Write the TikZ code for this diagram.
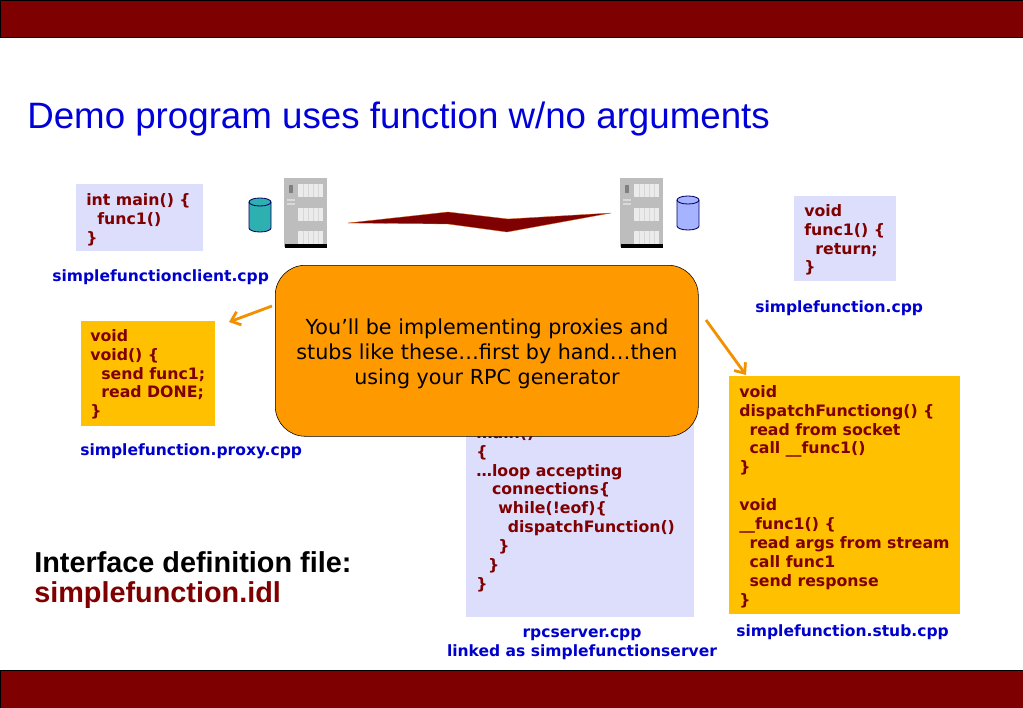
\documentclass[tikz,border=0pt]{standalone}
\usepackage{fontspec}
\setmainfont{DejaVu Sans}
\newfontfamily\arialfont{Liberation Sans}
\usepackage{tikz}
\usetikzlibrary{arrows.meta, positioning}
\definecolor{banddark}{HTML}{7F0000}
\definecolor{paleblue}{HTML}{DCDEFC}
\definecolor{boxgold}{HTML}{FFC000}
\definecolor{noteorange}{HTML}{FF9900}
\definecolor{labelblue}{HTML}{0000CC}
\definecolor{rackgrey}{HTML}{BDBDBD}
\definecolor{drumteal}{HTML}{2FB0B0}
\definecolor{drumblue}{HTML}{A6B4FF}
\newcommand{\pxu}{0.025cm}
\newcommand{\ind}[1]{\hspace*{#1em}}
\newcommand{\rackicon}[2]{%
	\fill[rackgrey] (#1, #2) rectangle ++(43, 69);
	\fill[black] (#1+1, #2+66) rectangle ++(42, 4);
	\foreach \py in {6, 30, 53} {
		\fill[white!92!black] (#1+14, #2+\py) rectangle ++(25, 13);
		\foreach \sx in {5, 10, 15, 20}
			\draw[rackgrey!60, very thin] (#1+14+\sx, #2+\py) -- ++(0, 13);
	}
	\fill[gray] (#1+5, #2+7) rectangle ++(4, 8);
	\fill[white!85!black] (#1+3, #2+21) rectangle ++(8, 2);
	\fill[white!85!black] (#1+3, #2+25) rectangle ++(8, 2);
}
\newcommand{\drumicon}[3]{%
	\draw[draw=black!60!blue, fill=#3, semithick] (#1, #2+4) -- (#1, #2+30) arc[start angle=180, end angle=0, x radius=11, y radius=4] -- (#1+22, #2+4) arc[start angle=0, end angle=-180, x radius=11, y radius=4] -- cycle;
	\draw[draw=black!60!blue, semithick] (#1, #2+4) arc[start angle=180, end angle=0, x radius=11, y radius=4];
}
\begin{document}
\begin{tikzpicture}[x=\pxu, y=-\pxu, >=Stealth,
		band/.style={draw=black, fill=banddark, minimum width=1023*\pxu, inner sep=0pt, anchor=north west},
		codefill/.style={anchor=north west, inner sep=0pt},
		codetext/.style={anchor=north west, inner sep=0pt, align=left, text=banddark,
			font=\fontsize{11.2}{13.45}\selectfont\bfseries},
		filelabel/.style={anchor=west, inner sep=0pt, text=labelblue, font=\fontsize{11.05}{13.5}\selectfont\bfseries},
		callout/.style={draw=noteorange!95!black, line width=2pt, ->, >={Straight Barb[length=6pt, width=10pt]}}]
	\useasboundingbox (0, 0) rectangle (1023, 708);
	\node[band, minimum height=37*\pxu] (topband) at (0, 0) {};
	\node[band, minimum height=38*\pxu] (bottomband) at (0, 670) {};
	\node[anchor=west, inner sep=0pt, text=blue!85!black, font=\arialfont\fontsize{26.1}{30}\selectfont] (title) at (27, 119) {Demo program uses function w/no arguments};

	\node[codefill, fill=paleblue, minimum width=127*\pxu, minimum height=67*\pxu] (clientbox) at (76, 184) {};
	\node[codetext] (clientcode) at (86, 193) {int main() \{\\\ind{.7}func1()\\\}};
	\node[codefill, fill=paleblue, minimum width=102*\pxu, minimum height=85*\pxu] (serverbox) at (794, 196) {};
	\node[codetext] (servercode) at (804, 204) {void\\func1() \{\\\ind{.7}return;\\\}};
	\node[codefill, fill=boxgold, minimum width=134*\pxu, minimum height=105*\pxu] (proxybox) at (81, 321) {};
	\node[codetext] (proxycode) at (90, 329) {void\\void() \{\\\ind{.7}send func1;\\\ind{.7}read DONE;\\\}};
	\node[codefill, fill=paleblue, minimum width=228*\pxu, minimum height=220*\pxu] (rpcbox) at (466, 397) {};
	\node[codetext] (rpccode) at (476, 426) {main()\\\{\\…loop accepting\\\ind{1}connections\{\\\ind{1.4}while(!eof)\{\\\ind{2}dispatchFunction()\\\ind{1.4}\}\\\ind{.75}\}\\\}};
	\node[codefill, fill=boxgold, minimum width=231*\pxu, minimum height=238*\pxu] (stubbox) at (729, 376) {};
	\node[codetext] (stubcode) at (739, 385) {void\\dispatchFunctiong() \{\\\ind{.65}read from socket\\\ind{.65}call \_\_func1()\\\}\\[13.45pt]void\\\_\_func1() \{\\\ind{.65}read args from stream\\\ind{.65}call func1\\\ind{.65}send response\\\}};

	\node[filelabel] (clientlabel) at (52, 277) {simplefunctionclient.cpp};
	\node[filelabel] (serverlabel) at (755, 308) {simplefunction.cpp};
	\node[filelabel] (proxylabel) at (80, 451) {simplefunction.proxy.cpp};
	\node[filelabel] (stublabel) at (736, 632) {simplefunction.stub.cpp};
	\node[filelabel, anchor=center, align=center] (rpclabel) at (582, 644) {rpcserver.cpp\\linked as simplefunctionserver};

	\node[anchor=north west, inner sep=0pt, align=left, font=\arialfont\fontsize{20.5}{21.4}\selectfont\bfseries] (idlnote) at (34, 551) {Interface definition file:\\\textcolor{banddark}{simplefunction.idl}};

	\rackicon{284}{178}
	\rackicon{620}{178}
	\drumicon{249}{198}{drumteal}
	\drumicon{677}{196}{drumblue}
	\coordinate (linkleft) at (348, 223);
	\coordinate (linkright) at (611, 213);
	\draw[draw=orange!70!banddark, fill=banddark, very thin] (linkleft) -- (448, 212) -- (508, 219) -- (linkright) -- (507, 232) -- (448, 224) -- cycle;

	\node[draw=black, fill=noteorange, rounded corners=30*\pxu, anchor=north west, minimum width=423*\pxu, minimum height=171*\pxu, inner sep=0pt] (note) at (275, 265) {};
	\node[align=center, inner sep=0pt, font=\fontsize{14.7}{17.8}\selectfont] (notetext) at (487, 354) {You’ll be implementing proxies and\\stubs like these…first by hand…then\\using your RPC generator};

	\coordinate (proxyfrom) at (272, 306);
	\coordinate (proxyto) at (229, 322);
	\coordinate (stubfrom) at (706, 320);
	\coordinate (stubto) at (746, 375);
	\draw[callout] (proxyfrom) -- (proxyto);
	\draw[callout] (stubfrom) -- (stubto);
\end{tikzpicture}
\end{document}
